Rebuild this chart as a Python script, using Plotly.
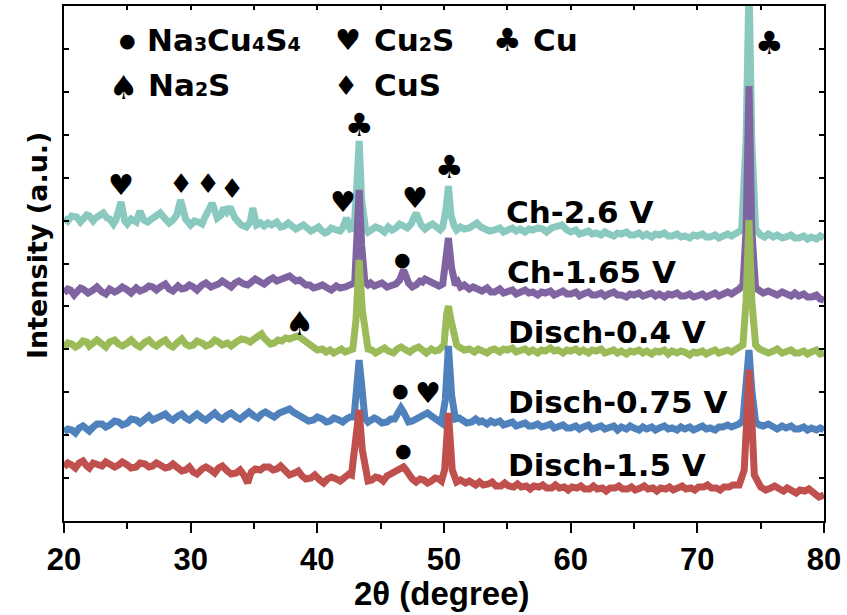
import plotly.graph_objects as go

# ---------------- data (2theta in degree, intensity in a.u., offset stacked) -------------
ch_2_6 = [(20.0, 303), (20.3, 300), (20.6, 305), (21.0, 304), (21.3, 299), (21.5, 301), (21.8, 306),
          (22.0, 305), (22.3, 300), (22.5, 303), (22.8, 306), (23.1, 308), (23.4, 303), (23.6, 302),
          (23.9, 297), (24.1, 301), (24.5, 319), (24.8, 300), (25.0, 297), (25.3, 302), (25.7, 299),
          (26.0, 310), (26.3, 301), (26.6, 299), (26.9, 302), (27.2, 305), (27.6, 308), (28.0, 302),
          (28.3, 298), (28.6, 301), (28.9, 306), (29.2, 321), (29.6, 302), (30.0, 296), (30.3, 300),
          (30.6, 299), (30.9, 297), (31.1, 303), (31.4, 309), (31.7, 318), (32.1, 303), (32.4, 306),
          (32.6, 313), (32.85, 309), (33.1, 314), (33.5, 303), (34.0, 296), (34.4, 294), (34.7, 299),
          (34.9, 313), (35.2, 296), (35.5, 298), (35.8, 295), (36.1, 298), (36.4, 296), (36.8, 299),
          (37.1, 294), (37.4, 295), (37.7, 298), (38.0, 295), (38.3, 292), (38.6, 294), (38.9, 296),
          (39.2, 293), (39.5, 290), (39.8, 292), (40.1, 294), (40.3, 291), (40.6, 288), (40.8, 289),
          (41.1, 293), (41.5, 291), (41.8, 290), (42.0, 293), (42.3, 303), (42.6, 292), (42.9, 293),
          (43.1, 331), (43.3, 380), (43.5, 321), (43.8, 293), (44.0, 289), (44.3, 291), (44.6, 294),
          (45.0, 292), (45.3, 289), (45.6, 294), (45.9, 291), (46.2, 293), (46.5, 297), (46.8, 295),
          (47.1, 293), (47.4, 297), (47.8, 308), (48.2, 296), (48.5, 292), (48.8, 295), (49.1, 297),
          (49.4, 294), (49.7, 291), (49.9, 294), (50.15, 311), (50.35, 335), (50.55, 306), (50.8, 295),
          (51.0, 291), (51.3, 294), (51.6, 292), (52.0, 293), (52.3, 296), (52.6, 298), (52.9, 294),
          (53.2, 293), (53.6, 290), (54.0, 291), (54.4, 293), (54.7, 289), (55.0, 291), (55.4, 293),
          (55.7, 290), (56.0, 292), (56.4, 289), (56.7, 292), (57.0, 291), (57.4, 293), (57.8, 292),
          (58.1, 289), (58.5, 293), (58.9, 295), (59.3, 296), (59.7, 291), (60.0, 289), (60.4, 291),
          (60.7, 287), (61.0, 288), (61.4, 290), (61.7, 287), (62.0, 288), (62.4, 286), (62.7, 289),
          (63.0, 287), (63.4, 285), (63.7, 288), (64.0, 287), (64.4, 289), (64.7, 286), (65.0, 286),
          (65.4, 288), (65.7, 285), (66.0, 287), (66.4, 284), (66.7, 287), (67.0, 286), (67.4, 288),
          (67.7, 285), (68.0, 285), (68.4, 287), (68.7, 284), (69.0, 285), (69.4, 283), (69.7, 286),
          (70.0, 285), (70.4, 287), (70.7, 284), (71.0, 284), (71.4, 286), (71.7, 283), (72.0, 285),
          (72.4, 287), (72.7, 285), (73.0, 287), (73.3, 289), (73.5, 291), (73.85, 380), (74.08, 540),
          (74.3, 380), (74.6, 292), (75.0, 286), (75.3, 284), (75.6, 287), (76.0, 284), (76.3, 286),
          (76.7, 283), (77.0, 284), (77.4, 286), (77.7, 283), (78.0, 283), (78.4, 285), (78.7, 282),
          (79.0, 284), (79.4, 282), (79.7, 285), (80.0, 283)]

ch_1_65 = [(20.0, 228), (20.3, 232), (20.5, 231), (20.8, 226), (21.0, 229), (21.3, 233), (21.5, 232),
           (21.9, 228), (22.3, 231), (22.6, 234), (23.0, 229), (23.3, 227), (23.6, 232), (24.0, 229),
           (24.3, 231), (24.6, 234), (25.0, 231), (25.3, 228), (25.7, 233), (26.0, 230), (26.4, 232),
           (26.7, 235), (27.0, 234), (27.3, 231), (27.6, 234), (28.0, 237), (28.3, 232), (28.6, 230),
           (29.0, 235), (29.3, 232), (29.6, 233), (29.9, 236), (30.2, 234), (30.5, 231), (30.9, 236),
           (31.2, 238), (31.6, 234), (31.9, 235), (32.2, 237), (32.5, 240), (32.9, 236), (33.2, 234),
           (33.5, 238), (33.8, 240), (34.2, 237), (34.5, 236), (34.8, 239), (35.1, 242), (35.5, 239),
           (35.8, 237), (36.2, 241), (36.5, 243), (36.8, 240), (37.1, 242), (37.4, 243), (37.8, 245),
           (38.0, 243), (38.3, 240), (38.6, 241), (38.8, 238), (39.1, 236), (39.4, 236), (39.7, 233),
           (40.0, 234), (40.4, 236), (40.8, 233), (41.1, 231), (41.5, 235), (41.8, 233), (42.2, 234),
           (42.6, 236), (42.95, 238), (43.15, 291), (43.3, 331), (43.5, 276), (43.75, 239), (44.0, 236),
           (44.2, 238), (44.5, 235), (44.8, 236), (45.1, 238), (45.5, 234), (45.8, 235), (46.2, 237),
           (46.5, 241), (46.8, 251), (47.0, 245), (47.2, 238), (47.5, 234), (47.8, 236), (48.1, 240),
           (48.3, 239), (48.5, 242), (48.7, 241), (49.0, 239), (49.3, 238), (49.6, 235), (49.9, 237),
           (50.15, 261), (50.35, 283), (50.6, 253), (50.9, 236), (51.1, 239), (51.3, 234), (51.6, 236),
           (52.0, 232), (52.3, 234), (52.7, 231), (53.0, 230), (53.4, 233), (53.7, 229), (54.0, 229),
           (54.4, 232), (54.7, 228), (55.0, 229), (55.4, 231), (55.7, 227), (56.0, 228), (56.4, 231),
           (56.7, 228), (57.0, 229), (57.4, 226), (57.7, 229), (58.0, 228), (58.4, 230), (58.7, 226),
           (59.0, 228), (59.4, 230), (59.7, 227), (60.0, 227), (60.4, 229), (60.7, 225), (61.0, 227),
           (61.4, 229), (61.7, 226), (62.0, 226), (62.4, 228), (62.7, 225), (63.0, 227), (63.4, 229),
           (63.7, 226), (64.0, 226), (64.4, 224), (64.7, 227), (65.0, 226), (65.4, 228), (65.7, 225),
           (66.0, 226), (66.4, 228), (66.7, 225), (67.0, 227), (67.4, 224), (67.7, 227), (68.0, 226),
           (68.4, 228), (68.7, 225), (69.0, 225), (69.4, 227), (69.7, 224), (70.0, 225), (70.4, 227),
           (70.7, 224), (71.0, 226), (71.4, 228), (71.7, 225), (72.0, 227), (72.4, 229), (72.7, 227),
           (73.0, 229), (73.3, 232), (73.6, 236), (73.85, 291), (74.08, 435), (74.3, 291), (74.6, 233),
           (74.9, 230), (75.2, 228), (75.6, 230), (76.0, 228), (76.3, 226), (76.7, 229), (77.0, 227),
           (77.4, 225), (77.7, 228), (78.0, 225), (78.4, 227), (78.7, 224), (79.0, 224), (79.4, 226),
           (79.7, 222), (80.0, 221)]

disch_0_4 = [(20.0, 174), (20.3, 178), (20.6, 177), (20.9, 174), (21.2, 176), (21.5, 180), (21.8, 179),
             (22.0, 175), (22.3, 178), (22.6, 181), (23.0, 177), (23.3, 174), (23.6, 179), (24.0, 181),
             (24.3, 177), (24.6, 175), (25.0, 178), (25.3, 181), (25.7, 176), (26.0, 174), (26.4, 179),
             (26.7, 181), (27.0, 177), (27.3, 175), (27.6, 178), (28.0, 181), (28.3, 176), (28.6, 174),
             (29.0, 179), (29.3, 182), (29.6, 177), (29.9, 175), (30.2, 176), (30.5, 180), (30.9, 178),
             (31.2, 175), (31.6, 177), (31.9, 181), (32.2, 179), (32.5, 176), (32.9, 178), (33.2, 175),
             (33.6, 179), (34.0, 182), (34.4, 181), (34.7, 179), (35.0, 182), (35.3, 184), (35.6, 187),
             (35.8, 183), (36.0, 180), (36.3, 177), (36.6, 178), (36.9, 181), (37.2, 180), (37.5, 183),
             (37.8, 182), (38.1, 184), (38.4, 185), (38.7, 183), (39.0, 180), (39.3, 176), (39.7, 173),
             (40.0, 171), (40.4, 172), (40.7, 169), (41.0, 171), (41.3, 168), (41.6, 170), (41.9, 172),
             (42.2, 169), (42.5, 171), (42.8, 172), (43.05, 201), (43.3, 261), (43.55, 211), (43.85, 176),
             (44.0, 172), (44.3, 171), (44.6, 168), (45.0, 171), (45.3, 173), (45.6, 170), (46.0, 168),
             (46.3, 172), (46.6, 174), (47.0, 171), (47.3, 169), (47.6, 172), (48.0, 174), (48.3, 171),
             (48.6, 168), (49.0, 172), (49.3, 170), (49.6, 171), (50.0, 176), (50.2, 206), (50.35, 215),
             (50.55, 201), (50.8, 181), (51.0, 176), (51.2, 174), (51.6, 171), (52.0, 172), (52.4, 169),
             (52.7, 172), (53.0, 171), (53.4, 168), (53.7, 171), (54.0, 172), (54.4, 169), (54.7, 172),
             (55.0, 171), (55.4, 173), (55.7, 169), (56.0, 170), (56.4, 172), (56.7, 169), (57.0, 171),
             (57.4, 168), (57.7, 171), (58.0, 170), (58.4, 173), (58.7, 170), (59.0, 171), (59.4, 168),
             (59.7, 171), (60.0, 170), (60.4, 172), (60.7, 169), (61.0, 171), (61.4, 168), (61.7, 171),
             (62.0, 170), (62.4, 172), (62.7, 168), (63.0, 169), (63.4, 171), (63.7, 168), (64.0, 170),
             (64.4, 167), (64.7, 170), (65.0, 169), (65.4, 171), (65.7, 168), (66.0, 170), (66.4, 167),
             (66.7, 170), (67.0, 169), (67.4, 171), (67.7, 167), (68.0, 170), (68.4, 168), (68.7, 170),
             (69.0, 169), (69.4, 166), (69.7, 169), (70.0, 168), (70.4, 170), (70.7, 167), (71.0, 169),
             (71.4, 171), (71.7, 168), (72.0, 169), (72.4, 171), (72.7, 169), (73.0, 171), (73.3, 173),
             (73.6, 176), (73.85, 221), (74.08, 301), (74.3, 221), (74.6, 176), (74.9, 172), (75.2, 171),
             (75.6, 168), (76.0, 170), (76.3, 172), (76.7, 168), (77.0, 169), (77.4, 171), (77.7, 168),
             (78.0, 168), (78.4, 170), (78.7, 167), (79.0, 169), (79.4, 171), (79.7, 167), (80.0, 168)]

disch_0_75 = [(20.0, 89), (20.3, 92), (20.6, 91), (20.9, 88), (21.2, 93), (21.5, 95), (21.8, 92),
              (22.0, 90), (22.3, 94), (22.6, 97), (23.0, 97), (23.3, 94), (23.6, 96), (24.0, 100),
              (24.3, 99), (24.6, 96), (25.0, 98), (25.3, 102), (25.7, 101), (26.0, 98), (26.4, 102),
              (26.7, 105), (27.0, 101), (27.3, 103), (27.6, 104), (28.0, 107), (28.3, 103), (28.6, 101),
              (29.0, 105), (29.3, 107), (29.6, 103), (29.9, 101), (30.2, 104), (30.5, 107), (30.9, 103),
              (31.2, 101), (31.6, 105), (31.9, 108), (32.2, 104), (32.5, 102), (32.9, 106), (33.2, 108),
              (33.6, 104), (33.9, 102), (34.3, 106), (34.6, 109), (35.0, 105), (35.3, 103), (35.6, 107),
              (35.9, 109), (36.3, 106), (36.6, 104), (37.0, 108), (37.4, 110), (37.8, 112), (38.1, 109),
              (38.4, 107), (38.7, 104), (39.0, 103), (39.3, 100), (39.7, 101), (40.0, 104), (40.4, 102),
              (40.7, 99), (41.0, 100), (41.3, 103), (41.7, 101), (42.0, 99), (42.3, 102), (42.6, 104),
              (42.9, 104), (43.1, 131), (43.3, 161), (43.5, 136), (43.75, 103), (44.0, 99), (44.2, 100),
              (44.5, 103), (44.8, 101), (45.1, 98), (45.5, 99), (45.8, 102), (46.1, 102), (46.4, 107),
              (46.6, 113), (46.8, 109), (47.0, 103), (47.2, 99), (47.5, 100), (47.8, 102), (48.0, 103),
              (48.4, 106), (48.7, 108), (49.0, 105), (49.3, 102), (49.6, 99), (49.8, 98), (50.1, 121),
              (50.35, 175), (50.6, 126), (50.9, 102), (51.2, 103), (51.5, 101), (51.8, 98), (52.2, 99),
              (52.5, 102), (52.8, 99), (53.0, 100), (53.4, 97), (53.7, 100), (54.0, 98), (54.4, 100),
              (54.7, 96), (55.0, 97), (55.4, 99), (55.7, 95), (56.0, 96), (56.4, 98), (56.7, 95),
              (57.0, 95), (57.4, 97), (57.7, 94), (58.0, 95), (58.4, 97), (58.7, 93), (59.0, 94),
              (59.4, 96), (59.7, 93), (60.0, 93), (60.4, 95), (60.7, 92), (61.0, 94), (61.4, 96),
              (61.7, 92), (62.0, 93), (62.4, 95), (62.7, 92), (63.0, 93), (63.4, 95), (63.7, 91),
              (64.0, 94), (64.4, 92), (64.7, 95), (65.0, 93), (65.4, 91), (65.7, 94), (66.0, 92),
              (66.4, 94), (66.7, 91), (67.0, 93), (67.4, 95), (67.7, 92), (68.0, 93), (68.4, 91),
              (68.7, 94), (69.0, 92), (69.4, 94), (69.7, 91), (70.0, 93), (70.4, 95), (70.7, 92),
              (71.0, 93), (71.4, 91), (71.7, 94), (72.0, 94), (72.4, 96), (72.7, 94), (73.0, 95),
              (73.3, 97), (73.6, 101), (73.85, 131), (74.08, 171), (74.3, 131), (74.6, 99), (74.9, 96),
              (75.2, 95), (75.6, 97), (76.0, 94), (76.3, 92), (76.7, 95), (77.0, 93), (77.4, 95),
              (77.7, 92), (78.0, 92), (78.4, 94), (78.7, 91), (79.0, 93), (79.4, 91), (79.7, 93),
              (80.0, 91)]

disch_1_5 = [(20.0, 54), (20.3, 58), (20.6, 56), (20.9, 53), (21.2, 58), (21.5, 60), (21.8, 55),
             (22.0, 53), (22.3, 58), (22.6, 56), (23.0, 55), (23.3, 59), (23.6, 57), (24.0, 54),
             (24.3, 56), (24.6, 59), (25.0, 56), (25.3, 53), (25.7, 54), (26.0, 58), (26.4, 57),
             (26.7, 54), (27.0, 55), (27.3, 58), (27.6, 56), (28.0, 53), (28.3, 54), (28.6, 57),
             (29.0, 53), (29.3, 50), (29.6, 51), (29.9, 54), (30.2, 49), (30.5, 47), (30.9, 52),
             (31.2, 54), (31.6, 51), (31.9, 48), (32.2, 53), (32.5, 55), (32.9, 50), (33.2, 47),
             (33.6, 48), (33.9, 51), (34.2, 46), (34.5, 38), (34.7, 46), (34.8, 49), (35.1, 52),
             (35.5, 51), (35.8, 54), (36.2, 54), (36.5, 51), (36.8, 52), (37.1, 55), (37.5, 49),
             (37.8, 46), (38.2, 48), (38.5, 50), (38.8, 45), (39.1, 42), (39.5, 43), (39.8, 46),
             (40.2, 41), (40.5, 38), (40.8, 42), (41.1, 44), (41.5, 42), (41.8, 40), (42.2, 44),
             (42.5, 47), (42.7, 46), (43.05, 81), (43.3, 111), (43.55, 71), (43.85, 43), (44.0, 40),
             (44.3, 41), (44.6, 44), (44.9, 43), (45.2, 40), (45.5, 45), (45.8, 47), (46.2, 49),
             (46.5, 52), (46.8, 54), (47.0, 51), (47.3, 45), (47.5, 42), (47.8, 39), (48.1, 42),
             (48.4, 41), (48.7, 38), (49.0, 40), (49.3, 43), (49.6, 42), (49.8, 40), (50.05, 51),
             (50.35, 108), (50.65, 51), (51.0, 39), (51.3, 41), (51.7, 38), (52.0, 40), (52.5, 36),
             (52.8, 39), (53.1, 36), (53.5, 37), (53.8, 39), (54.1, 35), (54.5, 35), (54.8, 38),
             (55.1, 35), (55.5, 34), (55.8, 37), (56.1, 34), (56.5, 35), (56.8, 32), (57.1, 35),
             (57.5, 34), (57.8, 36), (58.1, 33), (58.5, 33), (58.8, 36), (59.1, 33), (59.5, 34),
             (59.8, 31), (60.1, 34), (60.5, 33), (60.8, 35), (61.1, 32), (61.5, 32), (61.8, 35),
             (62.1, 32), (62.5, 33), (62.8, 30), (63.1, 33), (63.5, 33), (63.8, 35), (64.1, 32),
             (64.5, 32), (64.8, 34), (65.1, 31), (65.5, 33), (65.8, 35), (66.1, 32), (66.5, 33),
             (66.8, 30), (67.1, 33), (67.5, 32), (67.8, 34), (68.1, 31), (68.5, 33), (68.8, 35),
             (69.1, 32), (69.5, 33), (69.8, 31), (70.1, 34), (70.5, 34), (70.8, 36), (71.1, 33),
             (71.5, 33), (71.8, 31), (72.1, 34), (72.5, 34), (72.8, 36), (73.3, 36), (73.7, 51),
             (73.9, 101), (74.08, 151), (74.3, 101), (74.5, 46), (75.0, 34), (75.4, 31), (75.8, 33),
             (76.1, 35), (76.5, 32), (76.8, 30), (77.1, 33), (77.5, 31), (77.8, 28), (78.1, 31),
             (78.5, 30), (78.8, 32), (79.1, 28), (79.3, 27), (79.6, 24), (80.0, 26)]

series_names = ["Ch-2.6 V", "Ch-1.65 V", "Disch-0.4 V", "Disch-0.75 V", "Disch-1.5 V"]
series_data = [ch_2_6, ch_1_65, disch_0_4, disch_0_75, disch_1_5]
series_colors = ["#89C9BF", "#8064A2", "#9BBB59", "#4F81BD", "#C0504D"]

x_ticks = [20, 30, 40, 50, 60, 70, 80]

# ---------------- figure -------------
fig = go.Figure()
for name, data, color in zip(series_names, series_data, series_colors):
    xs = [p[0] for p in data]
    ys = [p[1] for p in data]
    fig.add_trace(go.Scatter(x=xs, y=ys, mode="lines", name=name,
                             line=dict(color=color, width=7), showlegend=False,
                             hoverinfo="skip"))

# dummy trace to activate top axis (inner ticks)
fig.add_trace(go.Scatter(x=[20, 80], y=[0, 0], xaxis="x2", mode="markers",
                         marker=dict(opacity=0), showlegend=False, hoverinfo="skip"))

SYM = "DejaVu Sans"
LBL = dict(family="DejaVu Sans", size=31, color="black", weight="bold")
SIZES = {"●": 19, "♥": 29, "♣": 32, "♠": 33, "♦": 27}

def ann(x, y, text, xanchor="center", font=None):
    f = font if font is not None else dict(family=SYM, size=SIZES.get(text, 29), color="black")
    fig.add_annotation(x=x, y=y, xref="x", yref="y", text=text, showarrow=False,
                       xanchor=xanchor, yanchor="middle", font=f)

# legend of phases (top)
small = '<span style="font-size:19px">%s</span>'
ann(25.0, 481, "●")
ann(26.4, 481, "Na" + small % "3" + "Cu" + small % "4" + "S" + small % "4", xanchor="left", font=LBL)
ann(42.4, 481, "♥")
ann(44.3, 481, "Cu" + small % "2" + "S", xanchor="left", font=LBL)
ann(55.0, 481, "♣")
ann(56.9, 481, "Cu", xanchor="left", font=LBL)
ann(24.7, 434, "♠")
ann(26.5, 436, "Na" + small % "2" + "S", xanchor="left", font=LBL)
ann(42.3, 436, "♦")
ann(44.3, 436, "CuS", xanchor="left", font=LBL)

# peak markers
ann(43.3, 396, "♣")
ann(50.4, 354, "♣")
ann(75.7, 478, "♣")
ann(24.5, 336, "♥")
ann(29.2, 338, "♦")
ann(31.4, 338, "♦")
ann(33.3, 333, "♦")
ann(42.0, 319, "♥")
ann(47.7, 323, "♥")
ann(46.7, 262, "●")
ann(38.6, 198, "♠")
ann(46.6, 131, "●")
ann(48.7, 128, "♥")
ann(46.8, 71, "●")

# sample labels
ann(54.7, 309, "Ch-2.6 V", xanchor="left", font=LBL)
ann(54.8, 249, "Ch-1.65 V", xanchor="left", font=LBL)
ann(54.9, 189, "Disch-0.4 V", xanchor="left", font=LBL)
ann(54.9, 119, "Disch-0.75 V", xanchor="left", font=LBL)
ann(54.9, 56, "Disch-1.5 V", xanchor="left", font=LBL)

# axis titles
fig.add_annotation(x=-0.034, y=0.536, xref="paper", yref="paper", text="Intensity (a.u.)",
                   textangle=-90, showarrow=False, xanchor="center", yanchor="middle",
                   font=dict(family="DejaVu Sans", size=27, color="black", weight="bold"))
fig.add_annotation(x=0.497, y=-0.14, xref="paper", yref="paper", text="2θ (degree)",
                   showarrow=False, xanchor="center", yanchor="middle",
                   font=dict(family="Liberation Sans", size=33, color="black", weight="bold"))

fig.update_layout(
    width=847, height=615,
    margin=dict(l=64, r=23, t=6, b=94, autoexpand=False),
    plot_bgcolor="white", paper_bgcolor="white",
    xaxis=dict(range=[20, 80], tickvals=x_ticks, ticks="outside", ticklen=10, tickwidth=2,
               tickcolor="black", showline=True, linecolor="black", linewidth=2, mirror=True,
               showgrid=False, zeroline=False, automargin=False,
               minor=dict(dtick=5, tick0=20, ticks="outside", ticklen=6, tickwidth=2, tickcolor="black", showgrid=False),
               tickfont=dict(family="Liberation Sans", size=31, color="black", weight="bold")),
    xaxis2=dict(range=[20, 80], overlaying="x", side="top", dtick=5, tick0=20, ticks="inside",
                ticklen=4, tickwidth=1.5, tickcolor="black", showticklabels=False,
                showgrid=False, zeroline=False, showline=False, automargin=False),
    yaxis=dict(range=[0, 515], tick0=0, dtick=515 / 12, ticks="inside", ticklen=5, tickwidth=1.5,
               tickcolor="black", showticklabels=False, showline=True, linecolor="black",
               linewidth=2, mirror="ticks", showgrid=False, zeroline=False, automargin=False),
)

fig.write_html("out.html", config={"displayModeBar": False},
               post_script="document.body.style.margin='0px';document.body.style.padding='0px';")
